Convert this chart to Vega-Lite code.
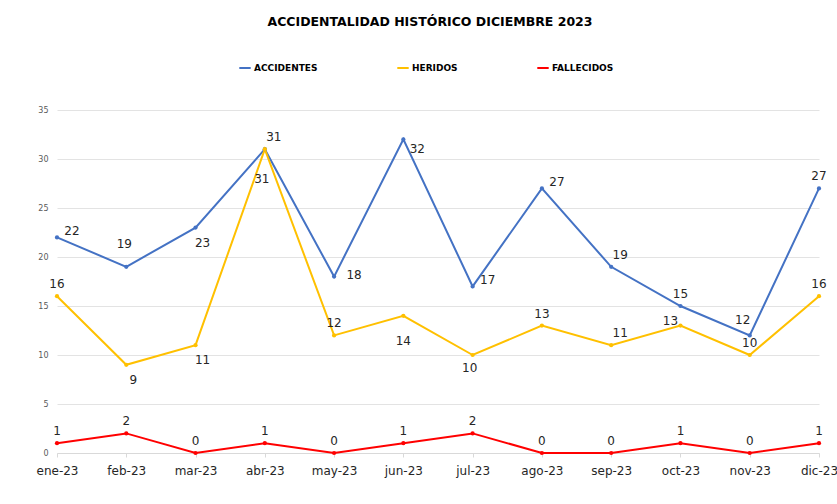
{
  "$schema": "https://vega.github.io/schema/vega-lite/v6.json",
  "width": 762,
  "height": 343,
  "autosize": {"type": "none"},
  "padding": {"left": 57, "top": 110, "right": 18, "bottom": 51},
  "background": "white",
  "title": {
    "text": "ACCIDENTALIDAD HISTÓRICO DICIEMBRE 2023",
    "font": "DejaVu Sans",
    "fontSize": 12.5,
    "fontWeight": "bold",
    "color": "#000000",
    "anchor": "middle",
    "frame": "group",
    "dx": -8,
    "offset": 33
  },
  "data": {
    "values": [
      {"mes": "ene-23", "serie": "ACCIDENTES", "valor": 22},
      {"mes": "feb-23", "serie": "ACCIDENTES", "valor": 19},
      {"mes": "mar-23", "serie": "ACCIDENTES", "valor": 23},
      {"mes": "abr-23", "serie": "ACCIDENTES", "valor": 31},
      {"mes": "may-23", "serie": "ACCIDENTES", "valor": 18},
      {"mes": "jun-23", "serie": "ACCIDENTES", "valor": 32},
      {"mes": "jul-23", "serie": "ACCIDENTES", "valor": 17},
      {"mes": "ago-23", "serie": "ACCIDENTES", "valor": 27},
      {"mes": "sep-23", "serie": "ACCIDENTES", "valor": 19},
      {"mes": "oct-23", "serie": "ACCIDENTES", "valor": 15},
      {"mes": "nov-23", "serie": "ACCIDENTES", "valor": 12},
      {"mes": "dic-23", "serie": "ACCIDENTES", "valor": 27},
      {"mes": "ene-23", "serie": "HERIDOS", "valor": 16},
      {"mes": "feb-23", "serie": "HERIDOS", "valor": 9},
      {"mes": "mar-23", "serie": "HERIDOS", "valor": 11},
      {"mes": "abr-23", "serie": "HERIDOS", "valor": 31},
      {"mes": "may-23", "serie": "HERIDOS", "valor": 12},
      {"mes": "jun-23", "serie": "HERIDOS", "valor": 14},
      {"mes": "jul-23", "serie": "HERIDOS", "valor": 10},
      {"mes": "ago-23", "serie": "HERIDOS", "valor": 13},
      {"mes": "sep-23", "serie": "HERIDOS", "valor": 11},
      {"mes": "oct-23", "serie": "HERIDOS", "valor": 13},
      {"mes": "nov-23", "serie": "HERIDOS", "valor": 10},
      {"mes": "dic-23", "serie": "HERIDOS", "valor": 16},
      {"mes": "ene-23", "serie": "FALLECIDOS", "valor": 1},
      {"mes": "feb-23", "serie": "FALLECIDOS", "valor": 2},
      {"mes": "mar-23", "serie": "FALLECIDOS", "valor": 0},
      {"mes": "abr-23", "serie": "FALLECIDOS", "valor": 1},
      {"mes": "may-23", "serie": "FALLECIDOS", "valor": 0},
      {"mes": "jun-23", "serie": "FALLECIDOS", "valor": 1},
      {"mes": "jul-23", "serie": "FALLECIDOS", "valor": 2},
      {"mes": "ago-23", "serie": "FALLECIDOS", "valor": 0},
      {"mes": "sep-23", "serie": "FALLECIDOS", "valor": 0},
      {"mes": "oct-23", "serie": "FALLECIDOS", "valor": 1},
      {"mes": "nov-23", "serie": "FALLECIDOS", "valor": 0},
      {"mes": "dic-23", "serie": "FALLECIDOS", "valor": 1}
    ]
  },
  "encoding": {
    "x": {
      "field": "mes",
      "type": "ordinal",
      "sort": null,
      "scale": {"type": "point", "padding": 0},
      "axis": {
        "title": null,
        "labelAngle": 0,
        "labelFont": "DejaVu Sans",
        "labelFontSize": 12,
        "labelColor": "#262626",
        "labelPadding": 8,
        "domainColor": "#d9d9d9",
        "tickColor": "#d9d9d9",
        "tickSize": 4,
        "grid": false
      }
    },
    "y": {
      "field": "valor",
      "type": "quantitative",
      "scale": {"domain": [0, 35], "nice": false},
      "axis": {
        "title": null,
        "values": [0, 5, 10, 15, 20, 25, 30, 35],
        "labelFont": "DejaVu Sans",
        "labelFontSize": 8,
        "labelColor": "#595959",
        "labelPadding": 9,
        "ticks": false,
        "domain": false,
        "gridColor": "#e3e3e3",
        "gridWidth": 1
      }
    }
  },
  "layer": [
    {
      "mark": {"type": "line", "strokeWidth": 2, "point": {"filled": true, "size": 18}},
      "encoding": {
        "color": {
          "field": "serie",
          "type": "nominal",
          "scale": {"domain": ["ACCIDENTES", "HERIDOS", "FALLECIDOS"], "range": ["#4472C4", "#FFC000", "#FF0000"]},
          "legend": {
            "title": null,
            "orient": "none",
            "direction": "horizontal",
            "legendX": 181,
            "legendY": -49,
            "columnPadding": 75,
            "symbolType": "stroke",
            "symbolSize": 130,
            "symbolStrokeWidth": 2,
            "labelFont": "DejaVu Sans",
            "labelFontSize": 9,
            "labelFontWeight": "bold",
            "labelColor": "#000000",
            "labelOffset": 2
          }
        }
      }
    },
    {
      "transform": [{"filter": "datum.serie == 'FALLECIDOS' || (datum.serie == 'ACCIDENTES' && indexof(['oct-23','dic-23'], datum.mes) >= 0) || (datum.serie == 'HERIDOS' && indexof(['ene-23','may-23','ago-23','nov-23','dic-23'], datum.mes) >= 0)"}],
      "mark": {"type": "text", "font": "DejaVu Sans", "fontSize": 12, "color": "#262626", "dy": -12, "baseline": "middle"},
      "encoding": {"text": {"field": "valor", "type": "quantitative"}}
    },
    {
      "transform": [{"filter": "datum.serie == 'ACCIDENTES' && indexof(['ene-23','jul-23','ago-23'], datum.mes) >= 0"}],
      "mark": {"type": "text", "font": "DejaVu Sans", "fontSize": 12, "color": "#262626", "dx": 15, "dy": -6, "baseline": "middle"},
      "encoding": {"text": {"field": "valor", "type": "quantitative"}}
    },
    {
      "transform": [{"filter": "(datum.serie == 'ACCIDENTES' && indexof(['abr-23','sep-23'], datum.mes) >= 0) || (datum.serie == 'HERIDOS' && datum.mes == 'sep-23')"}],
      "mark": {"type": "text", "font": "DejaVu Sans", "fontSize": 12, "color": "#262626", "dx": 9, "dy": -12, "baseline": "middle"},
      "encoding": {"text": {"field": "valor", "type": "quantitative"}}
    },
    {
      "transform": [{"filter": "datum.serie == 'ACCIDENTES' && datum.mes == 'may-23'"}],
      "mark": {"type": "text", "font": "DejaVu Sans", "fontSize": 12, "color": "#262626", "dx": 20, "dy": -2, "baseline": "middle"},
      "encoding": {"text": {"field": "valor", "type": "quantitative"}}
    },
    {
      "transform": [{"filter": "datum.serie == 'ACCIDENTES' && datum.mes == 'jun-23'"}],
      "mark": {"type": "text", "font": "DejaVu Sans", "fontSize": 12, "color": "#262626", "dx": 14, "dy": 10, "baseline": "middle"},
      "encoding": {"text": {"field": "valor", "type": "quantitative"}}
    },
    {
      "transform": [{"filter": "(datum.serie == 'ACCIDENTES' && datum.mes == 'mar-23') || (datum.serie == 'HERIDOS' && indexof(['feb-23','mar-23'], datum.mes) >= 0)"}],
      "mark": {"type": "text", "font": "DejaVu Sans", "fontSize": 12, "color": "#262626", "dx": 7, "dy": 15, "baseline": "middle"},
      "encoding": {"text": {"field": "valor", "type": "quantitative"}}
    },
    {
      "transform": [{"filter": "datum.serie == 'ACCIDENTES' && datum.mes == 'feb-23'"}],
      "mark": {"type": "text", "font": "DejaVu Sans", "fontSize": 12, "color": "#262626", "dx": -2, "dy": -23, "baseline": "middle"},
      "encoding": {"text": {"field": "valor", "type": "quantitative"}}
    },
    {
      "transform": [{"filter": "datum.serie == 'ACCIDENTES' && datum.mes == 'nov-23'"}],
      "mark": {"type": "text", "font": "DejaVu Sans", "fontSize": 12, "color": "#262626", "dx": -7, "dy": -15, "baseline": "middle"},
      "encoding": {"text": {"field": "valor", "type": "quantitative"}}
    },
    {
      "transform": [{"filter": "datum.serie == 'HERIDOS' && datum.mes == 'abr-23'"}],
      "mark": {"type": "text", "font": "DejaVu Sans", "fontSize": 12, "color": "#262626", "dx": -3, "dy": 30, "baseline": "middle"},
      "encoding": {"text": {"field": "valor", "type": "quantitative"}}
    },
    {
      "transform": [{"filter": "datum.serie == 'HERIDOS' && datum.mes == 'jun-23'"}],
      "mark": {"type": "text", "font": "DejaVu Sans", "fontSize": 12, "color": "#262626", "dx": 0, "dy": 25, "baseline": "middle"},
      "encoding": {"text": {"field": "valor", "type": "quantitative"}}
    },
    {
      "transform": [{"filter": "datum.serie == 'HERIDOS' && datum.mes == 'jul-23'"}],
      "mark": {"type": "text", "font": "DejaVu Sans", "fontSize": 12, "color": "#262626", "dx": -3, "dy": 13, "baseline": "middle"},
      "encoding": {"text": {"field": "valor", "type": "quantitative"}}
    },
    {
      "transform": [{"filter": "datum.serie == 'HERIDOS' && datum.mes == 'oct-23'"}],
      "mark": {"type": "text", "font": "DejaVu Sans", "fontSize": 12, "color": "#262626", "dx": -10, "dy": -5, "baseline": "middle"},
      "encoding": {"text": {"field": "valor", "type": "quantitative"}}
    }
  ],
  "config": {
    "view": {"stroke": null}
  }
}
